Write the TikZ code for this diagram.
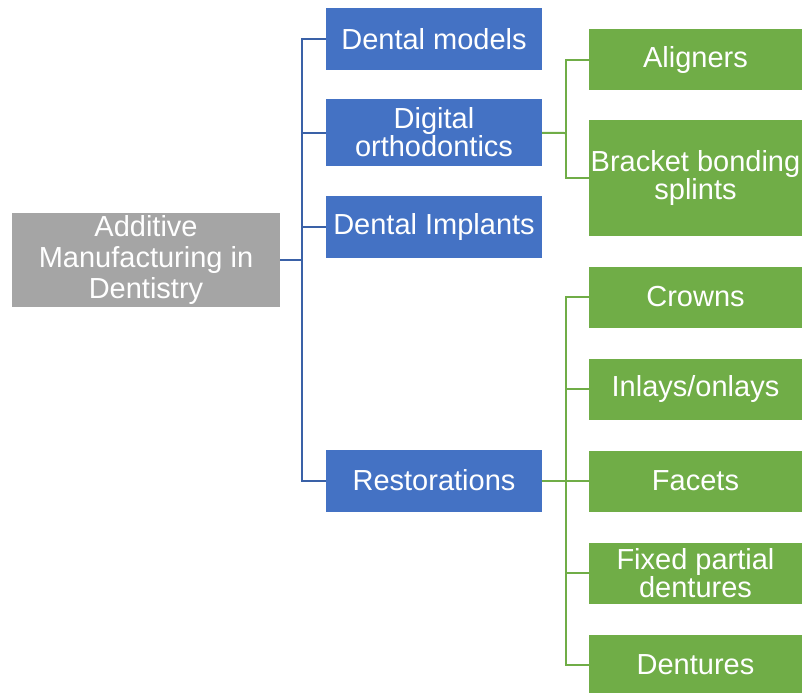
\documentclass[tikz,border=0pt]{standalone}
\usepackage{fontspec}
\setmainfont{Liberation Sans}
\usetikzlibrary{positioning}
\definecolor{amblue}{HTML}{4472C4}
\definecolor{amgreen}{HTML}{70AD47}
\definecolor{amgray}{HTML}{A5A5A5}

\begin{document}
\begin{tikzpicture}[x=0.5pt,y=-0.5pt,every node/.style={shape=rectangle,text=white,align=center,inner sep=1pt,outer sep=0pt,font=\fontsize{14.5}{14}\selectfont},
rootbox/.style={fill=amgray,minimum width=134pt,minimum height=47pt,font=\fontsize{14.5}{15.5}\selectfont},
bluebox/.style={fill=amblue,minimum width=108pt,minimum height=31pt},
greenbox/.style={fill=amgreen,minimum width=106.5pt,minimum height=30.5pt},
blueline/.style={draw=amblue!85!black,line width=1pt},
greenline/.style={draw=amgreen,line width=1pt},
node distance=15.5pt]
\useasboundingbox (0,0) rectangle (804,692);
\node[rootbox] (am) at (146,260) {Additive\\Manufacturing in\\Dentistry};
\node[bluebox] (models) at (434,39) {Dental models};
\node[bluebox,minimum height=33.5pt] (ortho) [below=14.5pt of models] {Digital\\orthodontics};
\node[bluebox] (implants) [below=15pt of ortho] {Dental Implants};
\node[bluebox] (rest) at (434,480.5) {Restorations};
\node[greenbox] (align) at (695.5,59.5) {Aligners};
\node[greenbox,minimum height=58pt] (bracket) [below=15pt of align] {Bracket bonding\\splints};
\node[greenbox] (crowns) at (695.5,297) {Crowns};
\node[greenbox] (inlays) [below=of crowns] {Inlays/onlays};
\node[greenbox] (facets) [below=of inlays] {Facets};
\node[greenbox] (fixed) [below=of facets] {Fixed partial\\dentures};
\node[greenbox] (dentures) [below=of fixed] {Dentures};

\coordinate (bt) at (302,260);
\coordinate (ot) at (566,133);
\coordinate (rt) at (566,480.5);

\draw[blueline] (am) -- (bt);
\foreach \n in {models,ortho,implants,rest}
  \draw[blueline] (bt) |- (\n);
\draw[greenline] (ortho) -- (ot);
\draw[greenline] (ot) |- (align);
\draw[greenline] (ot) |- (bracket);
\draw[greenline] (rest) -- (rt);
\foreach \n in {crowns,inlays,facets,fixed,dentures}
  \draw[greenline] (rt) |- (\n);
\end{tikzpicture}
\end{document}
